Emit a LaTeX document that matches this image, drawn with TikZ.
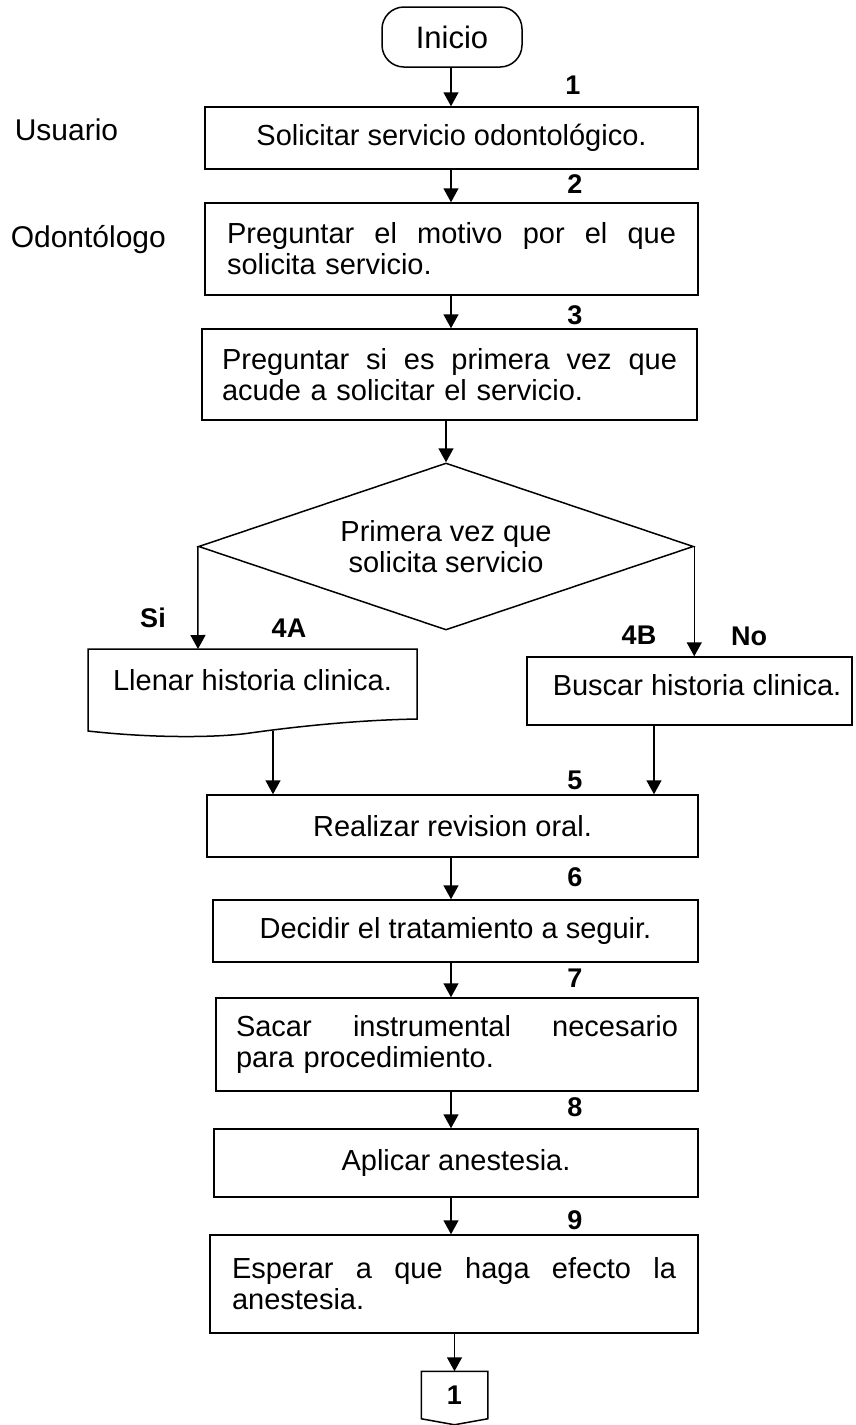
\documentclass[tikz,border=0pt]{standalone}
\usepackage{fontspec}
\setmainfont{Liberation Sans}
\usetikzlibrary{arrows.meta,shapes.geometric,calc}
\newcommand{\jl}[2]{\makebox[#1][s]{\spaceskip=0.28em plus 20em\relax #2}}
\begin{document}
\begin{tikzpicture}[x=1pt,y=-1pt,
  line width=1.5pt,
  every node/.style={font=\fontsize{29}{31}\selectfont},
  box/.style={draw,rectangle,line width=1.5pt,inner sep=0pt,align=center},
  jbox/.style={draw,rectangle,line width=1.5pt,inner ysep=0pt,align=left},
  lbl/.style={font=\fontsize{27}{29}\selectfont\bfseries,inner sep=0pt},
  side/.style={font=\fontsize{30}{32}\selectfont,inner sep=0pt,anchor=west},
  arr/.style={-{Triangle[length=14pt,width=15pt]},line width=1.5pt},
  ln/.style={line width=1.5pt}]
\useasboundingbox (0,0) rectangle (856,1425);

% columns of the arrows
\coordinate (ax) at (451,0);
\coordinate (lx) at (273,0);
\coordinate (rx) at (654,0);

% start
\node[draw,rounded corners=22pt,minimum width=140pt,minimum height=60pt,
      font=\fontsize{31}{33}\selectfont] (ini) at (452,37) {Inicio};

% side labels
\node[side] (usr) at (14,130) {Usuario};
\node[side] (odo) at (10,240) {Odontólogo};

% step boxes
\node[box,minimum width=493pt,minimum height=62pt] (b1) at (451.5,138) {Solicitar servicio odontológico.};
\node[jbox,text width=449pt,inner xsep=22pt,minimum height=92pt] (b2) at (451.5,249)
  {\jl{449pt}{Preguntar el motivo por el que}\\solicita servicio.};
\node[jbox,text width=455pt,inner xsep=20pt,minimum height=91pt] (b3) at (449.5,374.5)
  {\jl{455pt}{Preguntar si es primera vez que}\\acude a solicitar el servicio.};

% decision
\node[draw,diamond,aspect=3,inner sep=0pt,minimum width=495pt,minimum height=167pt,align=center]
  (dia) at (446,546.5) {Primera vez que\\solicita servicio};

% 4A document shape
\node[inner sep=0pt] (b4a) at (252.5,680) {Llenar historia clinica.};
\draw[ln] (88,731) -- (88,649) -- (417,649) -- (417,719)
  .. controls (360,720) and (300,726) .. (250,733)
  .. controls (215,738) and (150,738) .. (88,731) -- cycle;
\coordinate (b4atop) at (198,649);
\coordinate (b4abot) at (273,731);

% 4B
\node[box,minimum width=325pt,minimum height=68pt] (b4b) at (689.5,691) {};
\node[inner sep=0pt] (t4b) at (697,685) {Buscar historia clinica.};

\node[box,minimum width=491pt,minimum height=62pt] (b5) at (452.5,826) {Realizar revision oral.};
\node[box,minimum width=485pt,minimum height=62pt] (b6) at (455.5,931) {Decidir el tratamiento a seguir.};
\node[jbox,text width=442pt,inner xsep=20pt,minimum height=93pt] (b7) at (457,1044.5)
  {\jl{442pt}{Sacar instrumental necesario}\\para procedimiento.};
\node[box,minimum width=484pt,minimum height=68pt] (b8) at (456,1163) {Aplicar anestesia.};
\node[jbox,text width=444pt,inner xsep=22pt,minimum height=98pt] (b9) at (454,1284)
  {\jl{444pt}{Esperar a que haga efecto la}\\anestesia.};

% off-page connector
\node[lbl,minimum width=65pt,minimum height=46pt] (con) at (454.5,1395) {1};
\draw[ln] (con.north west) -- (con.north east) -- (con.south east)
  -- ($(con.south)+(0,6)$) -- (con.south west) -- cycle;

% step numbers and branch labels
\node[lbl] (n1) at (573,85) {1};
\node[lbl] (n2) at (575,184) {2};
\node[lbl] (n3) at (575,315) {3};
\node[lbl] (lsi) at (153,618) {Si};
\node[lbl] (n4a) at (289,628) {4A};
\node[lbl] (n4b) at (639,635) {4B};
\node[lbl] (lno) at (749,636) {No};
\node[lbl] (n5) at (575,780) {5};
\node[lbl] (n6) at (575,877) {6};
\node[lbl] (n7) at (575,978) {7};
\node[lbl] (n8) at (575,1107) {8};
\node[lbl] (n9) at (575,1220) {9};

% connectors
\draw[arr] (ini.south -| ax) -- (b1.north -| ax);
\draw[arr] (b1.south -| ax) -- (b2.north -| ax);
\draw[arr] (b2.south -| ax) -- (b3.north -| ax);
\draw[arr] (b3.south -| dia.north) -- (dia.north);
\draw[arr] (dia.west) -- (b4atop);
\draw[arr] (dia.east) -- (dia.east |- b4b.north);
\draw[arr] (b4abot) -- (b5.north -| lx);
\draw[arr] (b4b.south -| rx) -- (b5.north -| rx);
\draw[arr] (b5.south -| ax) -- (b6.north -| ax);
\draw[arr] (b6.south -| ax) -- (b7.north -| ax);
\draw[arr] (b7.south -| ax) -- (b8.north -| ax);
\draw[arr] (b8.south -| ax) -- (b9.north -| ax);
\draw[arr] (b9.south -| con.north) -- (con.north);
\end{tikzpicture}
\end{document}
